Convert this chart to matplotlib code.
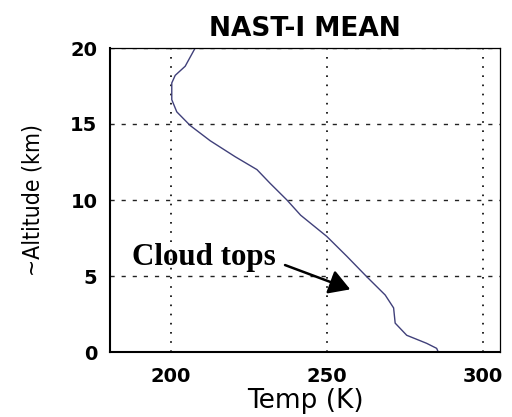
import matplotlib
matplotlib.use("Agg")
import matplotlib.pyplot as plt

# Mean temperature profile (K) vs altitude (km)
altitude_km = [0.0, 0.24, 0.57, 1.1, 1.9, 2.9, 3.75, 4.95, 6.3, 7.6, 9.0, 10.0, 11.1,
               12.0, 12.85, 13.9, 14.9, 15.8, 16.6, 17.7, 18.2, 18.8, 20.0]
temperature_K = [285.6, 285.1, 281.9, 275.5, 271.8, 271.3, 268.6, 262.7, 256.3, 249.9,
                 241.5, 237.1, 231.7, 227.5, 220.5, 212.5, 206.1, 201.8, 200.2, 200.2,
                 201.3, 204.5, 207.7]

x_ticks = [200, 250, 300]
y_ticks = [0, 5, 10, 15, 20]
title_text = "NAST-I MEAN"
xlabel_text = "Temp (K)"
ylabel_text = "~Altitude (km)"
annotation_text = "Cloud tops"
arrow_tail = (236.5, 5.72)
arrow_tip = (257.4, 4.12)

fig = plt.figure(figsize=(5.12, 4.17), dpi=100)
ax = fig.add_axes([110/512, 1-352/417, 390/512, 304/417])

ax.plot(temperature_K, altitude_km, color="#40407a", lw=1.0)
ax.set_xlim(180.4, 305.4)
ax.set_ylim(0, 20)
ax.set_xticks(x_ticks)
ax.set_yticks(y_ticks)
ax.tick_params(length=0, labelsize=14)
ax.tick_params(axis="x", pad=11)
ax.tick_params(axis="y", pad=9)
for lab in ax.get_xticklabels() + ax.get_yticklabels():
    lab.set_fontweight("bold")
    lab.set_family("DejaVu Sans")

for xv in x_ticks:
    ax.axvline(xv, color="black", lw=1.2, ls=(0, (1.0, 4.5)), zorder=0)
for yv in y_ticks[1:]:
    ax.axhline(yv, color="#222222", lw=1.0, ls=(0, (3, 5)), zorder=0)

for s in ["left", "bottom"]:
    ax.spines[s].set_linewidth(1.5)
for s in ["top", "right"]:
    ax.spines[s].set_linewidth(0.9)

ax.set_title(title_text, fontsize=19, fontweight="bold", family="DejaVu Sans", pad=9)
ax.set_xlabel(xlabel_text, fontsize=19, family="DejaVu Sans", labelpad=1)
ax.set_ylabel(ylabel_text, fontsize=16.5, family="DejaVu Sans", fontstretch="condensed")
ax.yaxis.set_label_coords(-65/390, 0.5)

ax.annotate("", xy=arrow_tip, xytext=arrow_tail,
            arrowprops=dict(arrowstyle="-|>,head_length=1.27,head_width=0.75",
                            color="black", lw=1.8, shrinkA=0, shrinkB=0))
ax.text(187.4, 5.72, annotation_text, fontsize=22.3, fontweight="bold",
        family=["Liberation Serif", "DejaVu Serif"], ha="left", va="baseline")

fig.savefig("out.png", dpi=100)
